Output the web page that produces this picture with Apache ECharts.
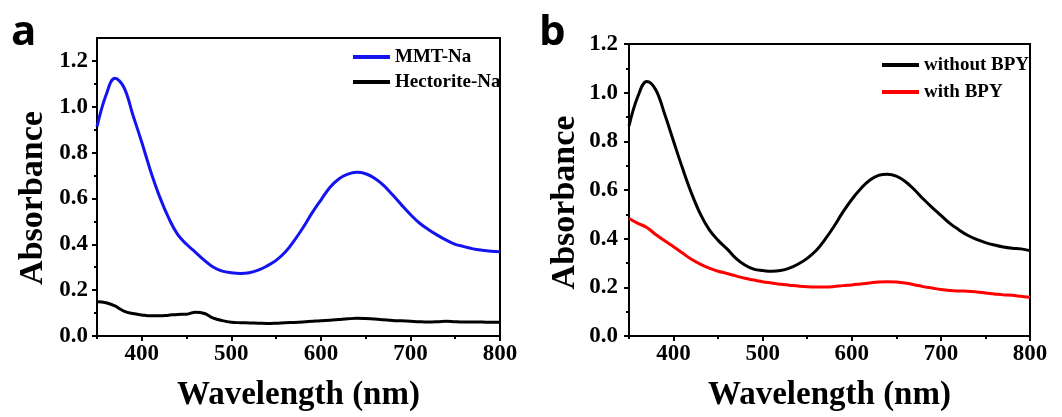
<!DOCTYPE html>
<html>
<head>
<meta charset="utf-8">
<script src="https://cdn.jsdelivr.net/npm/echarts@6/dist/echarts.min.js"></script>
<style>html,body{margin:0;padding:0;background:#fff}#c{width:1062px;height:417px}</style>
</head>
<body>
<div id="c"></div>
<script>
// ---- data ----
const wavelengths = [350,360,370,380,390,400,410,420,430,440,450,460,470,480,490,500,510,520,530,540,550,560,570,580,590,600,610,620,630,640,650,660,670,680,690,700,710,720,730,740,750,760,770,780,790,800];
const mmtNa = [0.913,1.050,1.124,1.085,0.965,0.845,0.718,0.607,0.515,0.443,0.400,0.365,0.330,0.300,0.283,0.276,0.273,0.276,0.287,0.306,0.330,0.365,0.415,0.472,0.536,0.593,0.648,0.685,0.706,0.714,0.708,0.688,0.657,0.616,0.572,0.530,0.493,0.465,0.440,0.418,0.400,0.390,0.380,0.374,0.370,0.368];
const hectoriteNa = [0.149,0.145,0.131,0.109,0.098,0.092,0.088,0.088,0.091,0.094,0.095,0.104,0.098,0.078,0.067,0.060,0.058,0.057,0.056,0.055,0.056,0.058,0.059,0.061,0.064,0.067,0.069,0.072,0.075,0.077,0.076,0.074,0.071,0.068,0.066,0.064,0.062,0.061,0.062,0.064,0.062,0.061,0.061,0.061,0.060,0.060];
const withoutBPY = [0.863,0.985,1.046,1.012,0.912,0.800,0.690,0.588,0.502,0.437,0.393,0.358,0.319,0.292,0.275,0.269,0.266,0.269,0.279,0.296,0.319,0.351,0.397,0.450,0.509,0.561,0.605,0.640,0.660,0.665,0.657,0.635,0.602,0.564,0.529,0.496,0.463,0.437,0.414,0.397,0.384,0.374,0.366,0.361,0.358,0.351];
const withBPY = [0.483,0.463,0.446,0.417,0.391,0.367,0.341,0.315,0.295,0.279,0.266,0.257,0.247,0.237,0.230,0.223,0.218,0.213,0.209,0.205,0.202,0.201,0.201,0.203,0.207,0.210,0.214,0.218,0.222,0.223,0.222,0.218,0.211,0.203,0.197,0.191,0.187,0.185,0.184,0.181,0.177,0.173,0.169,0.167,0.163,0.159];
const xMajorTicks = [400,500,600,700,800];
const xMinorTicks = [350,450,550,650,750];
const yMajorTicks = [0,0.2,0.4,0.6,0.8,1.0,1.2];
const yMinorTicks = [0.1,0.3,0.5,0.7,0.9,1.1];
const panelLabels = ['a','b'];
const legendA = ['MMT-Na','Hectorite-Na'];
const legendB = ['without BPY','with BPY'];
const xName = 'Wavelength (nm)';
const yName = 'Absorbance';

// ---- styling ----
const serif = 'Liberation Serif';
const pairs = arr => wavelengths.map((w, i) => [w, arr[i]]);

function xAxes(gi) {
  return [
    {
      gridIndex: gi, type: 'value', min: 350, max: 800, position: 'bottom',
      name: xName, nameLocation: 'middle', nameGap: 43,
      nameTextStyle: {fontFamily: serif, fontWeight: 'bold', fontSize: 33, color: '#000'},
      axisLine: {show: true, onZero: false, lineStyle: {color: '#000', width: 2}},
      axisTick: {show: true, length: 5, lineStyle: {color: '#000', width: 2}, customValues: xMajorTicks},
      axisLabel: {show: true, margin: 7, fontFamily: serif, fontWeight: 'bold', fontSize: 23, color: '#000', customValues: xMajorTicks},
      splitLine: {show: false}
    },
    {
      gridIndex: gi, type: 'value', min: 350, max: 800, position: 'bottom', offset: 0,
      axisLine: {show: false, onZero: false},
      axisTick: {show: true, length: 3, lineStyle: {color: '#000', width: 2}, customValues: xMinorTicks},
      axisLabel: {show: false},
      splitLine: {show: false}
    }
  ];
}
function yAxes(gi, max, margin, shift) {
  return [
    {
      gridIndex: gi, type: 'value', min: 0, max: max, position: 'left',
      name: yName, nameLocation: 'middle', nameGap: 47,
      nameTextStyle: {fontFamily: serif, fontWeight: 'bold', fontSize: 34, color: '#000', padding: [0, shift, 0, 0]},
      axisLine: {show: true, onZero: false, lineStyle: {color: '#000', width: 2}},
      axisTick: {show: true, length: 5, lineStyle: {color: '#000', width: 2}, customValues: yMajorTicks},
      axisLabel: {show: true, margin: margin, fontFamily: serif, fontWeight: 'bold', fontSize: 23, color: '#000',
                  customValues: yMajorTicks, formatter: v => v.toFixed(1)},
      splitLine: {show: false}
    },
    {
      gridIndex: gi, type: 'value', min: 0, max: max, position: 'left', offset: 0,
      axisLine: {show: false, onZero: false},
      axisTick: {show: true, length: 3, lineStyle: {color: '#000', width: 2}, customValues: yMinorTicks},
      axisLabel: {show: false},
      splitLine: {show: false}
    }
  ];
}
function line(name, arr, xi, yi, color) {
  return {
    name: name, type: 'line', xAxisIndex: xi, yAxisIndex: yi, data: pairs(arr),
    smooth: 0.4, showSymbol: false, symbol: 'none',
    lineStyle: {color: color, width: 3}, itemStyle: {color: color},
    emphasis: {disabled: true}
  };
}

const chart = echarts.init(document.getElementById('c'), null, {renderer: 'canvas'});
chart.setOption({
  backgroundColor: '#fff',
  animation: false,
  title: [
    {text: panelLabels[0], left: 6, top: 7, textStyle: {fontFamily: 'Open Sans', fontWeight: 'bold', fontSize: 42, color: '#000'}},
    {text: panelLabels[1], left: 534, top: 7, textStyle: {fontFamily: 'Open Sans', fontWeight: 'bold', fontSize: 42, color: '#000'}}
  ],
  grid: [
    {left: 97, right: 562, top: 38, bottom: 75, show: true, borderColor: '#000', borderWidth: 2, containLabel: false},
    {left: 629, right: 32, top: 44, bottom: 68, show: true, borderColor: '#000', borderWidth: 2, containLabel: false}
  ],
  legend: [
    {data: legendA, orient: 'vertical', left: 348, top: 42, itemWidth: 37, itemHeight: 4, itemGap: 5, icon: 'rect',
     textStyle: {fontFamily: serif, fontWeight: 'bold', fontSize: 19, lineHeight: 20, color: '#000'}},
    {data: legendB, orient: 'vertical', left: 877, top: 50, itemWidth: 37, itemHeight: 4, itemGap: 7, icon: 'rect',
     textStyle: {fontFamily: serif, fontWeight: 'bold', fontSize: 19, lineHeight: 20, color: '#000'}}
  ],
  xAxis: [...xAxes(0), ...xAxes(1)],
  yAxis: [...yAxes(0, 1.3, 9, 22), ...yAxes(1, 1.2, 11, 25)],
  series: [
    line(legendA[0], mmtNa, 0, 0, '#1414f0'),
    line(legendA[1], hectoriteNa, 0, 0, '#000000'),
    line(legendB[0], withoutBPY, 2, 2, '#000000'),
    line(legendB[1], withBPY, 2, 2, '#ff0000')
  ]
});
</script>
</body>
</html>
